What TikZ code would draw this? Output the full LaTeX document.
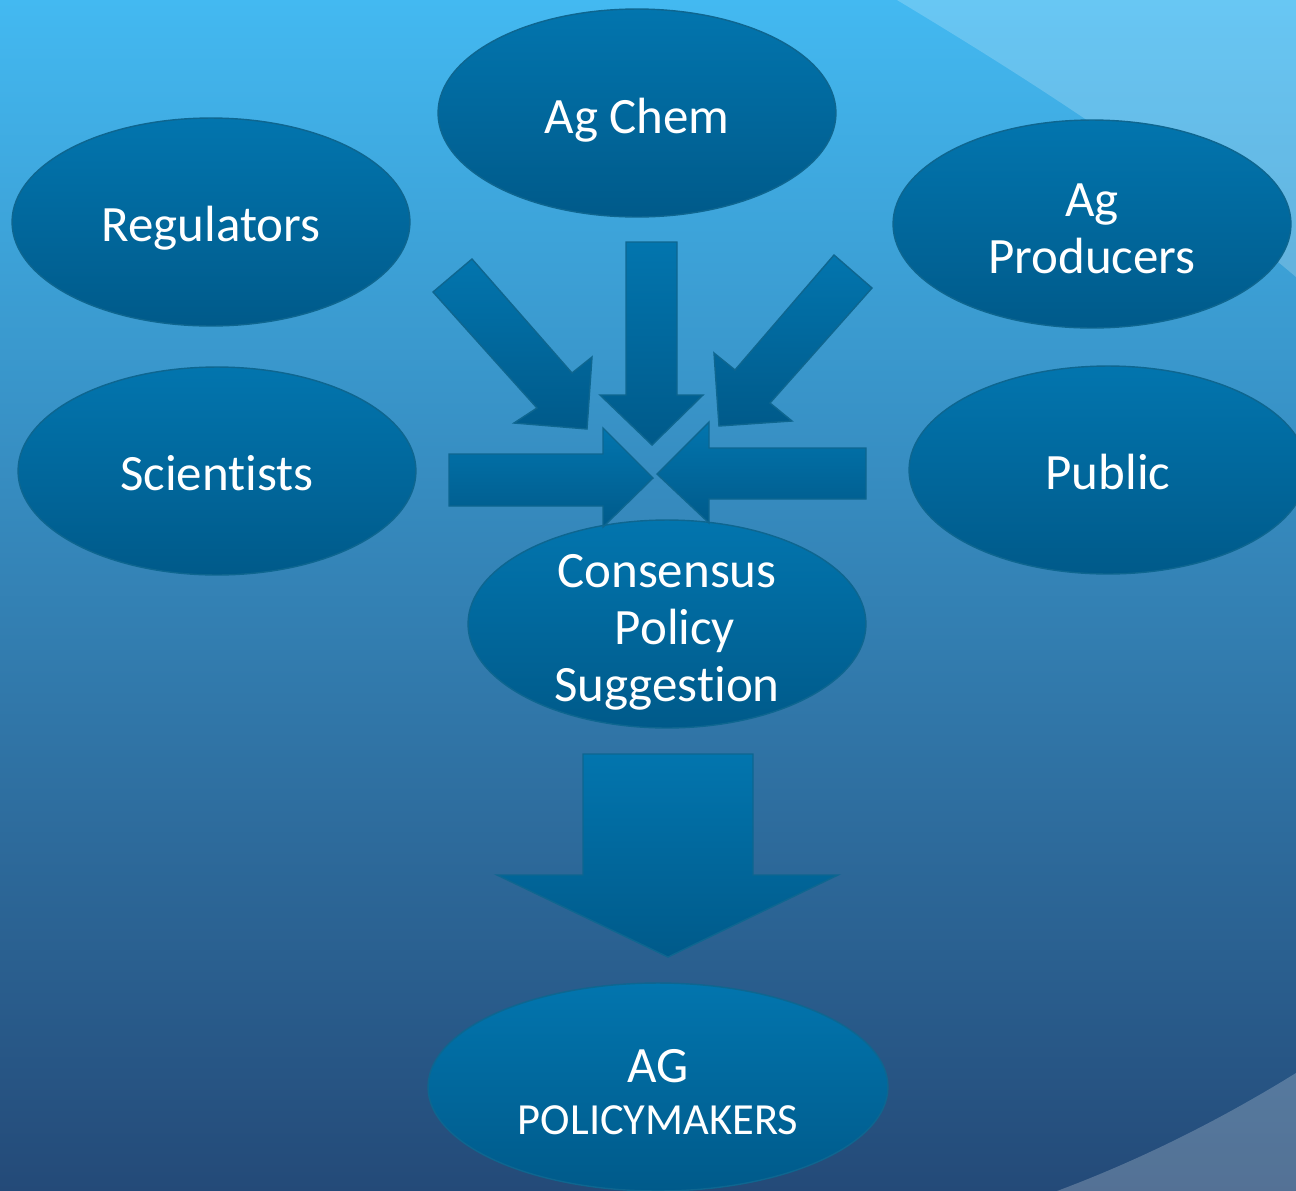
\documentclass[tikz,border=0pt]{standalone}
\usepackage{fontspec}
\setmainfont{Carlito}[Ligatures=NoCommon]
\usetikzlibrary{positioning,shapes.geometric}
\definecolor{skytop}{HTML}{43B9F1}
\definecolor{skymid}{HTML}{3A8DC4}
\definecolor{skybot}{HTML}{244A78}
\definecolor{blobtop}{HTML}{0275AE}
\definecolor{blobbot}{HTML}{005A8A}
\definecolor{blobedge}{HTML}{0E6690}
\newcommand{\nodelift}[1]{\rule{0pt}{#1}}
\tikzset{
  blob/.style={ellipse, draw=blobedge, line width=0.8pt, top color=blobtop, bottom color=blobbot,
    text=white, align=center, inner xsep=0pt, inner ysep=-0.8cm, minimum width=7.96cm, minimum height=4.16cm,
    font=\fontsize{29}{32.4}\selectfont},
  blockarrow/.style={draw=blobedge, line width=0.8pt, top color=blobtop, bottom color=blobbot, line join=miter},
}
\begin{document}
\begin{tikzpicture}[x=0.02cm, y=-0.02cm]
	% Hintergrund
	\useasboundingbox (0,0) rectangle (1296,1191);
	\shade[top color=skytop, middle color=skymid, bottom color=skybot] (0,0) rectangle (1296,1191);
	\fill[white, opacity=0.2] (897,0) .. controls (1030,80) and (1170,170) .. (1296,277) -- (1296,0) -- cycle;
	\fill[white, opacity=0.22] (1057,1191) .. controls (1140,1160) and (1220,1120) .. (1296,1073) -- (1296,1191) -- cycle;
	% Gruppen
	\node[blob] (agchem) at (637,113) {\nodelift{0.99cm}Ag Chem};
	\node[blob] (regulators) at (211,222) {\nodelift{0.95cm}Regulators};
	\node[blob] (producers) at (1092,224) {\nodelift{0.86cm}Ag\\Producers};
	\node[blob] (scientists) at (217,471) {\nodelift{0.79cm}Scientists};
	\node[blob] (public) at (1108,470) {\nodelift{0.79cm}Public};
	\node[blob] (consensus) at (667,624) {\nodelift{0.99cm}Consensus\\\hspace*{0.32cm}Policy\\Suggestion};
	\node[blob, minimum width=9.2cm] (makers) at (658,1087) {\nodelift{0.88cm}AG\\[-0.1cm]{\fontsize{25.3}{30}\selectfont POLICYMAKERS}};
	% Pfeile zur Mitte
	\draw[blockarrow] (433,292) -- (472,259) -- (572,373) -- (592,357) -- (587,429) -- (514,423) -- (537,408) -- cycle;
	\draw[blockarrow] (626,242) -- (677,242) -- (677,395) -- (703,395) -- (652,445) -- (600,395) -- (626,395) -- cycle;
	\draw[blockarrow] (834,255) -- (872,288) -- (770,403) -- (792,421) -- (719,426) -- (714,353) -- (735,370) -- cycle;
	\draw[blockarrow] (449,454) -- (603,454) -- (603,428) -- (653,478) -- (603,527) -- (603,506) -- (449,506) -- cycle;
	\draw[blockarrow] (866,448) -- (709,448) -- (709,422) -- (657,474) -- (709,523) -- (709,499) -- (866,499) -- cycle;
	% Pfeil nach unten
	\draw[blockarrow] (583,754) -- (753,754) -- (753,875) -- (838,875) -- (668,957) -- (497,875) -- (583,875) -- cycle;
\end{tikzpicture}
\end{document}
